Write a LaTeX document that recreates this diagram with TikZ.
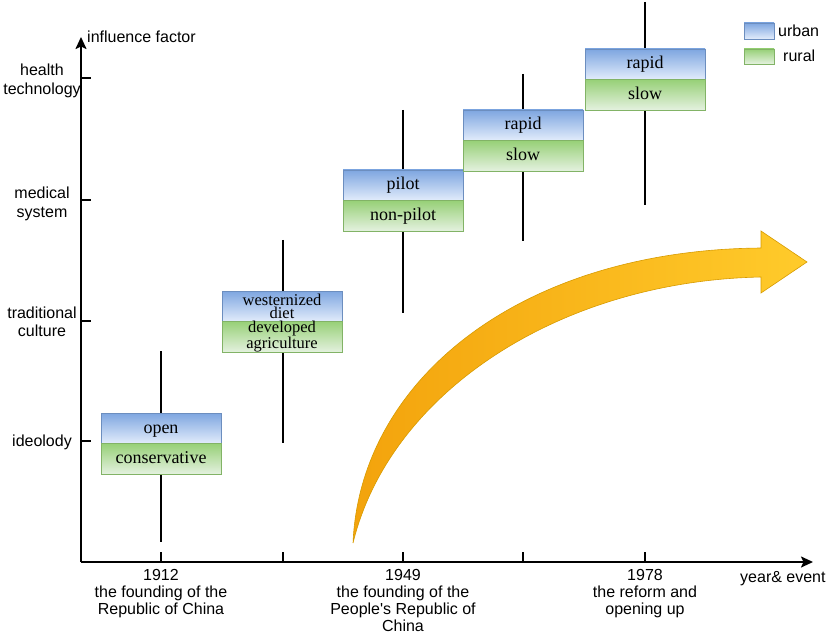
\documentclass[tikz,border=0pt]{standalone}
\usepackage{fontspec}
\setmainfont{Liberation Serif}
\newfontfamily\labfont{Liberation Sans}
\usetikzlibrary{arrows.meta}
\definecolor{bluetop}{HTML}{7EA6E0}
\definecolor{bluebot}{HTML}{E2ECFB}
\definecolor{blueedge}{HTML}{6C8EBF}
\definecolor{greentop}{HTML}{97D077}
\definecolor{greenbot}{HTML}{E4F1DF}
\definecolor{greenedge}{HTML}{82B366}
\definecolor{arrowA}{HTML}{F3A30C}
\definecolor{arrowB}{HTML}{FFCB2B}
\definecolor{arrowedge}{HTML}{D79B00}
\tikzset{
  axisline/.style={line width=2pt, -{Stealth[length=12pt,width=11pt,inset=2.5pt]}},
  tickline/.style={line width=2pt},
  whisk/.style={line width=2pt},
  boxbase/.style={line width=0.8pt, minimum width=120pt, minimum height=30.5pt,
    inner sep=0pt, align=center, font=\fontsize{18}{15}\selectfont},
  urb/.style={boxbase, draw=blueedge, top color=bluetop, bottom color=bluebot},
  rur/.style={boxbase, draw=greenedge, top color=greentop, bottom color=greenbot},
  oneline/.style={text height=13pt, text depth=3.5pt},
  twoline/.style={font=\fontsize{16.5}{13.5}\selectfont},
  lab/.style={inner sep=0pt, align=center, font=\labfont\fontsize{16}{18.5}\selectfont},
  xlab/.style={inner sep=0pt, align=center, anchor=north, font=\labfont\fontsize{16}{17}\selectfont},
}
\begin{document}
\begin{tikzpicture}[x=1pt,y=-1pt]
\useasboundingbox (0,0) rectangle (829,636);
% axes
\coordinate (O) at (81,562);
\coordinate (Ytop) at (81,37);
\coordinate (Xend) at (813,562);
\draw[axisline] (O) -- (Ytop);
\draw[axisline] (O) -- (Xend);
% y ticks
\foreach \n/\y in {yt1/78, yt2/200, yt3/321, yt4/441}{
  \coordinate (\n a) at (81,\y);
  \coordinate (\n b) at (91,\y);
  \draw[tickline] (\n a) -- (\n b);
}
% x ticks
\foreach \n/\x in {xt1/161, xt2/283, xt3/403, xt4/523, xt5/645}{
  \coordinate (\n a) at (\x,562);
  \coordinate (\n b) at (\x,552);
  \draw[tickline] (\n a) -- (\n b);
}
% axis labels
\node[lab, anchor=west] (yname) at (87,37) {influence factor};
\node[lab, anchor=west] (xname) at (740,579) {year\& event};
\node[lab] (l1) at (42,81) {health\\technology};
\node[lab] (l2) at (42,204) {medical\\system};
\node[lab] (l3) at (42,322) {traditional\\culture};
\node[lab] (l4) at (42,442) {ideolody};
\node[xlab] (e1) at (161,569.5) {1912\\the founding of the\\Republic of China};
\node[xlab] (e2) at (403,569.5) {1949\\the founding of the\\People's Republic of\\China};
\node[xlab] (e3) at (645,569.5) {1978\\the reform and\\opening up};
% whiskers
\foreach \n/\x/\a/\b in {w1/161/351/542, w2/283/240/443, w3/403/110/313, w4/523/74/241, w5/645/2/205}{
  \coordinate (\n t) at (\x,\a);
  \coordinate (\n b) at (\x,\b);
  \draw[whisk] (\n t) -- (\n b);
}
% boxes
\node[urb, oneline] (u1) at (161,428.25) {open};
\node[rur, oneline] (r1) at (161,458.75) {conservative};
\node[urb, twoline] (u2) at (282,306.25) {westernized\\diet};
\node[rur, twoline] (r2) at (282,336.75) {developed\\agriculture};
\node[urb, oneline] (u3) at (403,185.25) {pilot};
\node[rur, oneline] (r3) at (403,215.75) {non-pilot};
\node[urb, oneline] (u4) at (523,125.25) {rapid};
\node[rur, oneline] (r4) at (523,155.75) {slow};
\node[urb, oneline] (u5) at (645,64.25) {rapid};
\node[rur, oneline] (r5) at (645,94.75) {slow};
% legend
\node[urb, minimum width=30pt, minimum height=16pt] (lgb) at (759,31) {};
\node[rur, minimum width=30pt, minimum height=15pt] (lgg) at (759,56.5) {};
\node[lab, anchor=west] (lgbt) at (778,31) {urban};
\node[lab, anchor=west] (lggt) at (783,56) {rural};
% big curved arrow
\draw[arrowedge, line width=0.6pt, left color=arrowA, right color=arrowB]
  (353,543) .. controls (360,380) and (520,250) .. (761,248)
  -- (761,231) -- (807,262) -- (761,293) -- (761,277)
  .. controls (560,281) and (390,392) .. (353,543) -- cycle;
\end{tikzpicture}
\end{document}
